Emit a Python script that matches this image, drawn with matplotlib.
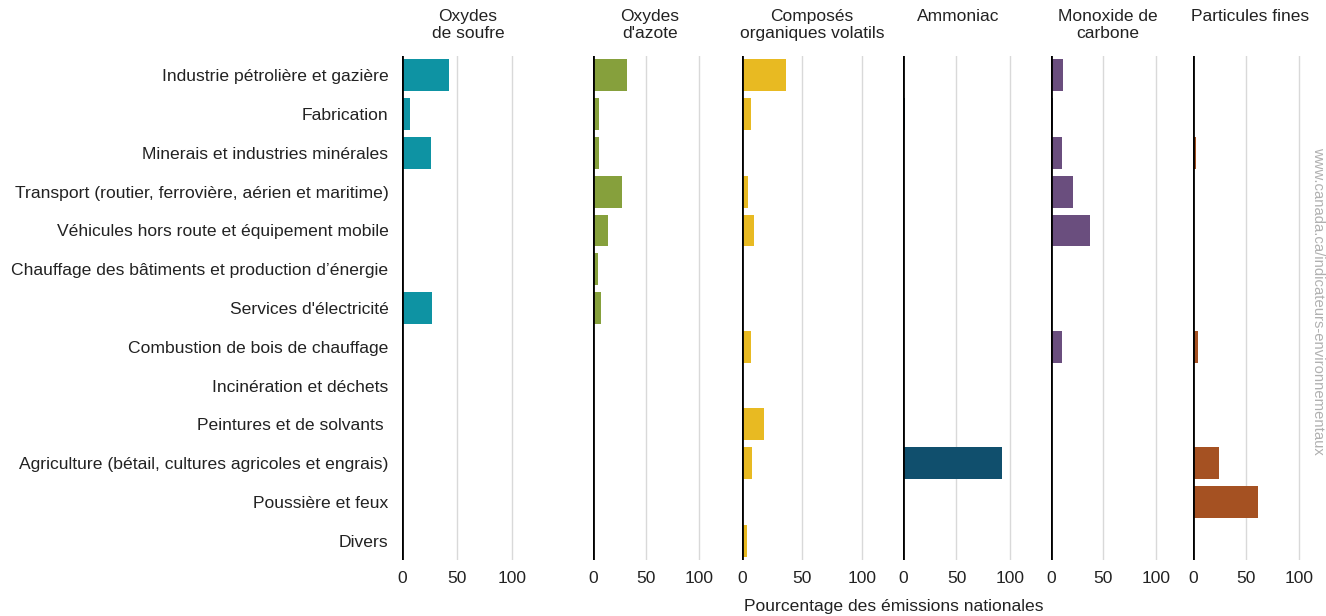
import matplotlib.pyplot as plt

plt.rcParams['font.family'] = ['Liberation Sans', 'DejaVu Sans']

categories = [
    "Industrie pétrolière et gazière",
    "Fabrication",
    "Minerais et industries minérales",
    "Transport (routier, ferrovière, aérien et maritime)",
    "Véhicules hors route et équipement mobile",
    "Chauffage des bâtiments et production d\u2019énergie",
    "Services d'électricité",
    "Combustion de bois de chauffage",
    "Incinération et déchets",
    "Peintures et de solvants ",
    "Agriculture (bétail, cultures agricoles et engrais)",
    "Poussière et feux",
    "Divers",
]

titles = ["Oxydes\nde soufre", "Oxydes\nd'azote", "Composés\norganiques volatils",
          "Ammoniac", "Monoxide de\ncarbone", "Particules fines"]

# percent of national emissions, one list per pollutant (same order as categories)
oxydes_soufre = [42, 7, 26, 0, 0, 0, 27, 0, 0, 0, 0, 0, 0]
oxydes_azote = [32, 5, 5.5, 27, 14, 4, 7, 0, 0, 0, 0, 0, 0]
cov = [36, 7, 0, 4.5, 10, 0, 0, 7, 0, 18, 8, 0, 3.5]
ammoniac = [0, 2, 0, 0, 0, 0, 0, 0, 0, 0, 93, 0, 0]
monoxyde_carbone = [11.5, 2, 11, 21.5, 37.5, 0, 0, 11, 0, 0, 0, 0, 0]
particules_fines = [0, 0, 2.5, 0, 0, 0, 0, 4.5, 0, 0, 24.5, 61.5, 0]

series = [oxydes_soufre, oxydes_azote, cov, ammoniac, monoxyde_carbone, particules_fines]
colors = ["#0E93A3", "#86A03C", "#E8BA22", "#104F6D", "#6A4E7E", "#A55122"]

W, H = 1326, 616
fig = plt.figure(figsize=(W / 100, H / 100), dpi=100)

# panel left edge (px), px per unit, x max
panels = [(402.3, 1.1, 130), (593.3, 1.06, 130), (742.3, 1.2, 130),
          (903.3, 1.064, 130), (1050.7, 1.05, 130), (1193.3, 1.057, 120)]
title_px = [468, 650, 812, 958, 1108, 1250]
top, bottom = 56, 560

ypos = list(range(len(categories)))

for i, (left, scale, xmax) in enumerate(panels):
    ax = fig.add_axes([left / W, (H - bottom) / H, xmax * scale / W, (bottom - top) / H])
    ax.barh(ypos, series[i], height=0.82, color=colors[i], zorder=3)
    ax.set_xlim(0, xmax)
    ax.set_ylim(len(categories) - 0.5, -0.5)
    for g in [50, 100]:
        ax.axvline(g, color="#d9d9d9", lw=1, zorder=1)
    ax.axvline(0, color="black", lw=2, zorder=4)
    for s in ax.spines.values():
        s.set_visible(False)
    ax.set_xticks([0, 50, 100])
    ax.set_xticklabels(["0", "50", "100"])
    ax.tick_params(axis='x', length=0, pad=8, labelsize=12.5, colors="#222222")
    if i == 0:
        ax.set_yticks(ypos)
        ax.set_yticklabels(categories)
        ax.tick_params(axis='y', length=0, pad=10, labelsize=12.6, colors="#222222")
    else:
        ax.set_yticks([])
    fig.text(title_px[i] / W, 1 - 9 / H, titles[i], ha='center', va='top',
             fontsize=12.5, color="#222222", linespacing=1.15)

fig.text(894 / W, 1 - 606 / H, "Pourcentage des émissions nationales", ha='center',
         va='center', fontsize=12.6, color="#222222")
fig.text(1318 / W, 1 - 301 / H, "www.canada.ca/indicateurs-environnementaux",
         rotation=-90, ha='center', va='center', fontsize=10.7, color="#b0b0b0")

fig.savefig("out.png", dpi=100)
